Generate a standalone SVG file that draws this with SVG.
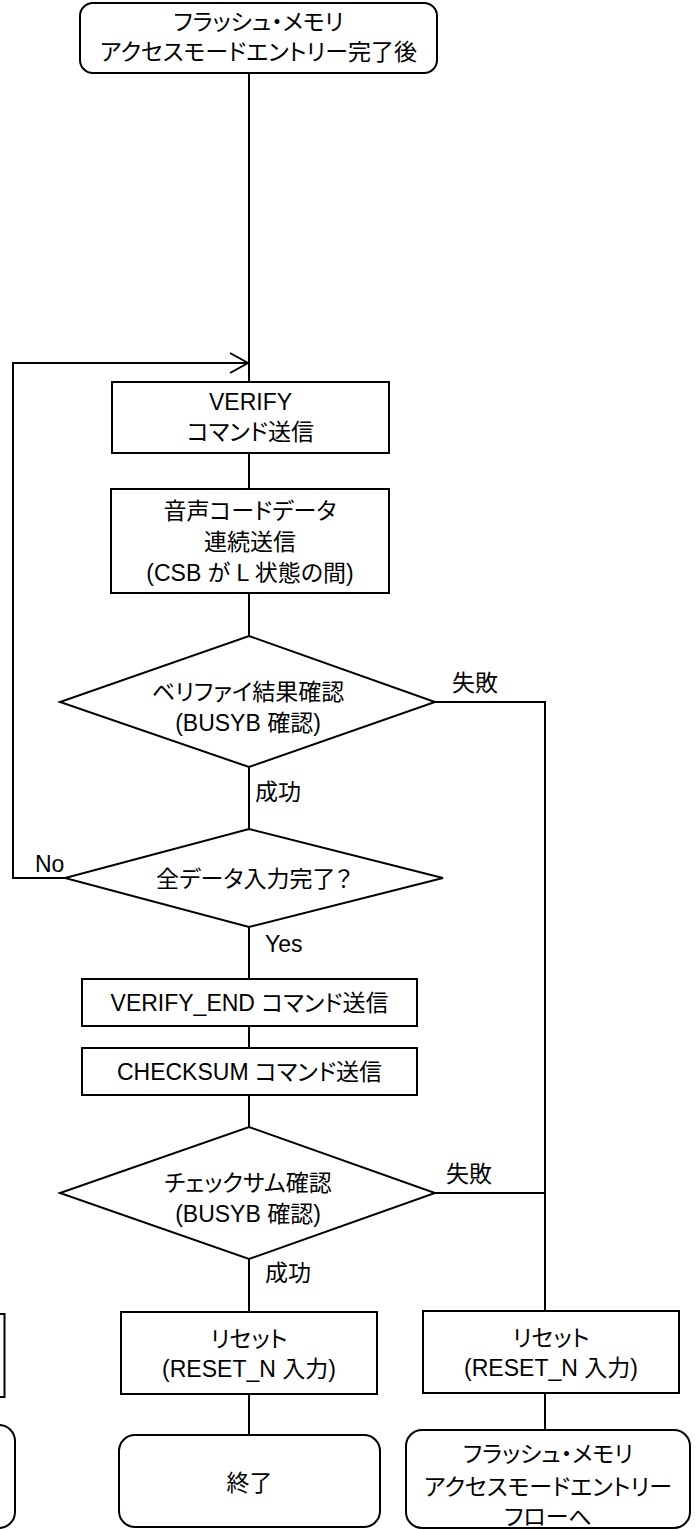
<svg xmlns="http://www.w3.org/2000/svg" width="696" height="1530" viewBox="0 0 696 1530">
<style>
.shape{fill:#fff;stroke:#000;stroke-width:2}
.ln{fill:none;stroke:#000;stroke-width:2}
text{font-family:"Liberation Sans","Noto Sans CJK JP",sans-serif;font-size:23px;fill:#000;font-feature-settings:"palt"}
.c{text-anchor:middle}
</style>
<defs>
<marker id="open" markerUnits="userSpaceOnUse" markerWidth="22" markerHeight="24" refX="19" refY="11" orient="auto">
<path d="M1,1 L19,11 L1,21" fill="none" stroke="#000" stroke-width="2"/>
</marker>
</defs>
<rect width="696" height="1530" fill="#fff"/>
<g id="connectors">
<path class="ln" d="M249,73 V382"/>
<path class="ln" d="M65,878 H13 V363 H248" marker-end="url(#open)"/>
<path class="ln" d="M249,453 V489"/>
<path class="ln" d="M249,593 V636"/>
<path class="ln" d="M249,767 V829"/>
<path class="ln" d="M249,927 V979"/>
<path class="ln" d="M249,1026 V1048"/>
<path class="ln" d="M249,1095 V1127"/>
<path class="ln" d="M249,1259 V1312"/>
<path class="ln" d="M249,1394 V1435"/>
<path class="ln" d="M435,702 H545 V1311"/>
<path class="ln" d="M435,1193 H545"/>
<path class="ln" d="M545,1393 V1430"/>
<text x="475" y="691" class="c">失敗</text>
<text x="469" y="1182" class="c">失敗</text>
<text x="278" y="800" class="c">成功</text>
<text x="288" y="1281" class="c">成功</text>
<text x="265" y="952">Yes</text>
<text x="35" y="872">No</text>
</g>
<g id="start">
<rect class="shape" x="80" y="3" width="357" height="70" rx="13"/>
<text x="258.5" y="30" class="c">フラッシュ・メモリ</text>
<text x="258.5" y="60" class="c">アクセスモードエントリー完了後</text>
</g>
<g id="verify">
<rect class="shape" x="112" y="382" width="277" height="71"/>
<text x="250.5" y="410" class="c">VERIFY</text>
<text x="250.5" y="440" class="c">コマンド送信</text>
</g>
<g id="senddata">
<rect class="shape" x="111" y="489" width="278" height="104"/>
<text x="250" y="519" class="c">音声コードデータ</text>
<text x="250" y="550" class="c">連続送信</text>
<text x="250" y="581" class="c">(CSB が L 状態の間)</text>
</g>
<g id="verifycheck">
<polygon class="shape" points="249,636 435,702 249,767 60,702"/>
<text x="248" y="700" class="c">ベリファイ結果確認</text>
<text x="248" y="731" class="c">(BUSYB 確認)</text>
</g>
<g id="alldone">
<polygon class="shape" points="249,829 443,878 249,927 65,878"/>
<text x="254" y="887" class="c">全データ入力完了？</text>
</g>
<g id="verifyend">
<rect class="shape" x="82" y="979" width="335" height="47"/>
<text x="249.5" y="1011" class="c">VERIFY_END コマンド送信</text>
</g>
<g id="checksum">
<rect class="shape" x="82" y="1048" width="335" height="47"/>
<text x="249.5" y="1080" class="c">CHECKSUM コマンド送信</text>
</g>
<g id="checksumcheck">
<polygon class="shape" points="249,1127 435,1193 249,1259 60,1193"/>
<text x="248" y="1191" class="c">チェックサム確認</text>
<text x="248" y="1222" class="c">(BUSYB 確認)</text>
</g>
<g id="reset1">
<rect class="shape" x="121" y="1312" width="256" height="82"/>
<text x="249" y="1347" class="c">リセット</text>
<text x="249" y="1377" class="c">(RESET_N 入力)</text>
</g>
<g id="end">
<rect class="shape" x="119" y="1435" width="261" height="92" rx="16"/>
<text x="249.5" y="1491" class="c">終了</text>
</g>
<g id="reset2">
<rect class="shape" x="423" y="1311" width="256" height="82"/>
<text x="551" y="1346" class="c">リセット</text>
<text x="551" y="1376" class="c">(RESET_N 入力)</text>
</g>
<g id="toentry">
<rect class="shape" x="406" y="1430" width="284" height="98" rx="16"/>
<text x="548" y="1462" class="c">フラッシュ・メモリ</text>
<text x="548" y="1495" class="c">アクセスモードエントリー</text>
<text x="548" y="1525" class="c">フローへ</text>
</g>
<g id="cut-left-box">
<rect class="shape" x="-260" y="1314" width="264.5" height="83"/>
</g>
<g id="cut-left-terminal">
<rect class="shape" x="-270" y="1425" width="285" height="103" rx="16"/>
</g>
</svg>
